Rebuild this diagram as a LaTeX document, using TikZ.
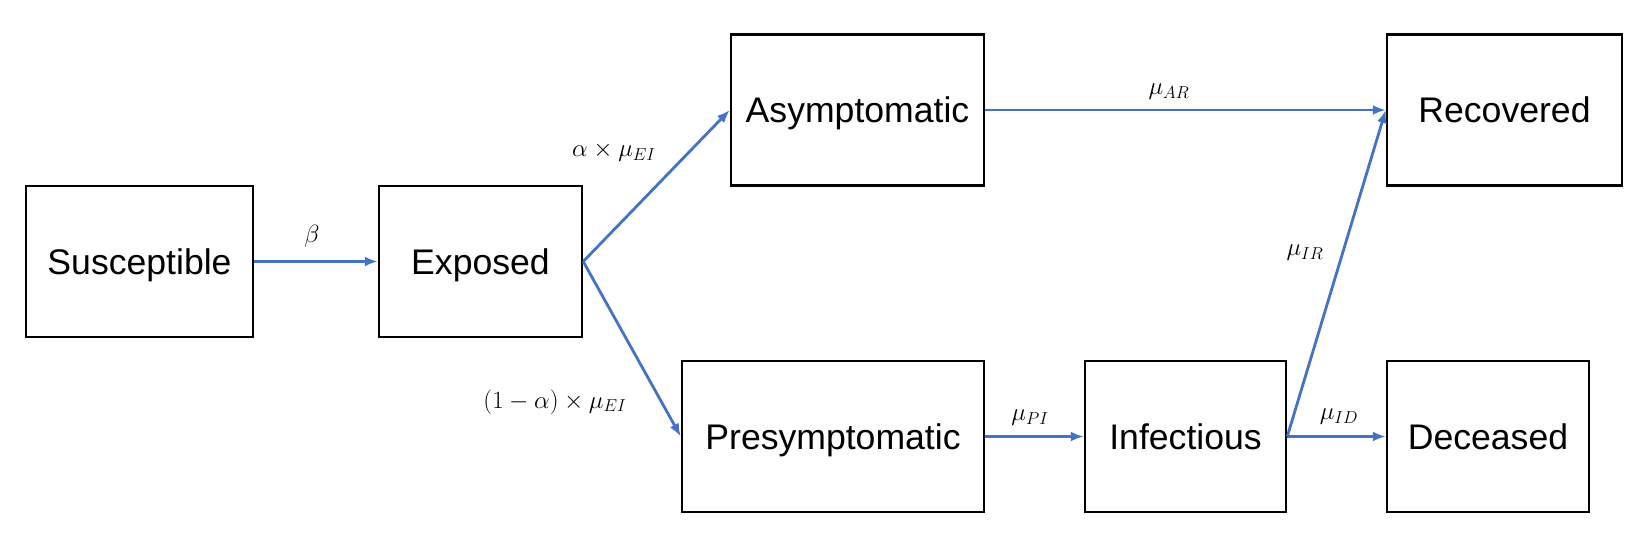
\documentclass[tikz,border=0pt]{standalone}
\usepackage{fontspec}
\newfontfamily\boxfont{Liberation Sans}
\usetikzlibrary{arrows.meta}
\definecolor{flowblue}{RGB}{68,114,196}

\begin{document}
\begin{tikzpicture}[x=1pt, y=-1pt,
	box/.style = {draw, line width=2.5pt, minimum height=151pt, inner sep=0pt, text height=25.5pt, text depth=0pt, font=\boxfont\fontsize{35.6}{40}\selectfont},
	flow/.style = {draw=flowblue, line width=2.8pt, -{Latex[length=13pt,width=10pt]}},
	rate/.style = {font=\fontsize{27}{30}\selectfont}]
	\useasboundingbox (0,0) rectangle (1650,544);
	% compartments
	\node [box, minimum width=227pt] (sus) at (139.5,261.5) {Susceptible};
	\node [box, minimum width=203pt] (exp) at (480.5,261.5) {Exposed};
	\node [box, minimum width=253pt] (asy) at (857.5,110) {Asymptomatic};
	\node [box, minimum width=235pt] (rec) at (1504.5,110) {Recovered};
	\node [box, minimum width=302pt] (pre) at (833,436.5) {Presymptomatic};
	\node [box, minimum width=201pt] (inf) at (1185.5,436.5) {Infectious};
	\node [box, minimum width=202pt] (dec) at (1488,436.5) {Deceased};
	% transitions
	\draw [flow] (sus.east) -- (exp.west);
	\draw [flow] (exp.east) -- (asy.west);
	\draw [flow] (exp.east) -- (pre.west);
	\draw [flow] (asy.east) -- (rec.west);
	\draw [flow] (pre.east) -- (inf.west);
	\draw [flow] (inf.east) -- (rec.west);
	\draw [flow] (inf.east) -- (dec.west);
	% rates
	\node [rate] (beta) at (312,236) {$\beta$};
	\node [rate] (aEI) at (614,152) {$\alpha\times\mu_{EI}$};
	\node [rate] (naEI) at (555,402) {$(1-\alpha)\times\mu_{EI}$};
	\node [rate] (AR) at (1169,92) {$\mu_{AR}$};
	\node [rate] (PI) at (1030,418) {$\mu_{PI}$};
	\node [rate] (IR) at (1305,253) {$\mu_{IR}$};
	\node [rate] (ID) at (1339,417) {$\mu_{ID}$};
\end{tikzpicture}
\end{document}
